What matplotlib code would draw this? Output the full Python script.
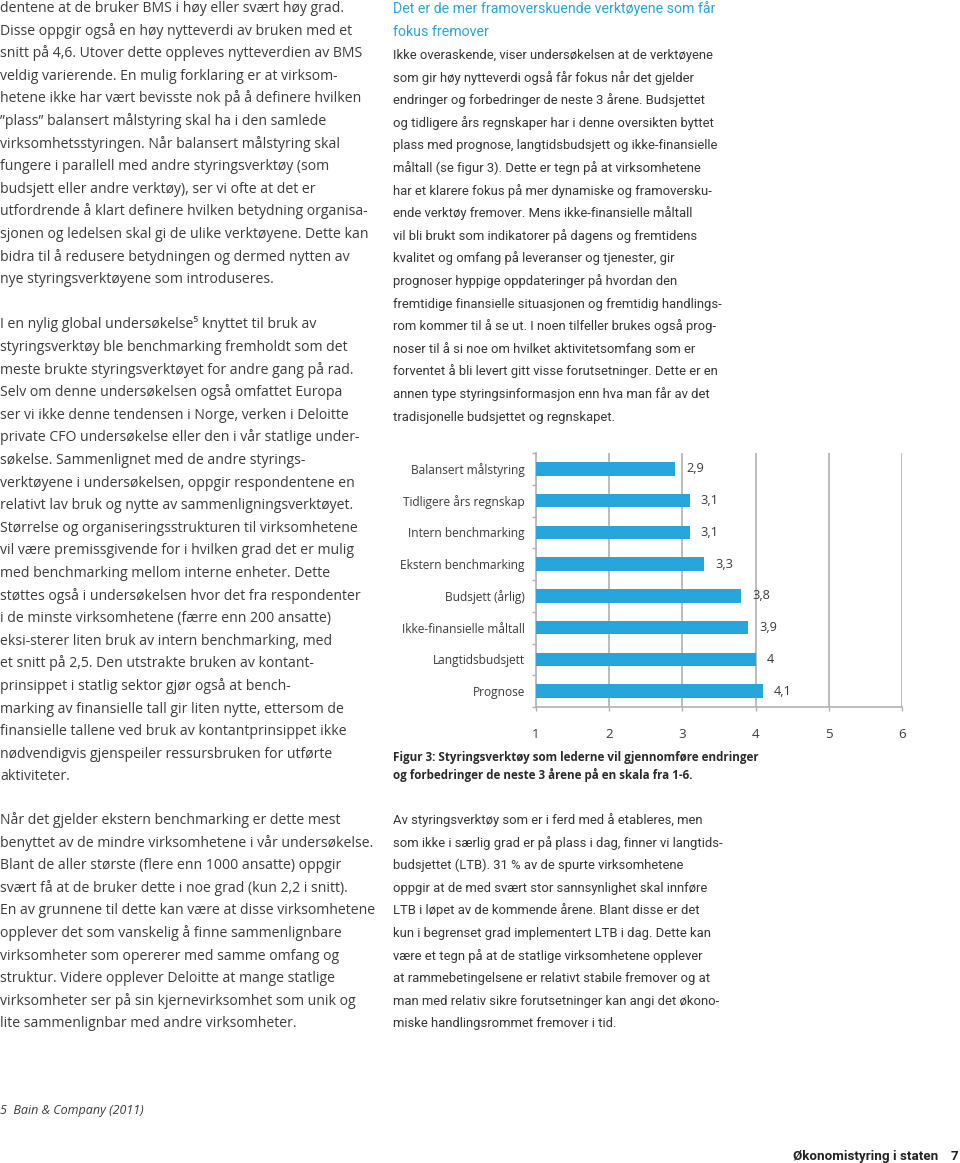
import matplotlib
matplotlib.use("Agg")
import matplotlib.pyplot as plt
import numpy as np

# ---------------- data ----------------
categories = ["Balansert målstyring", "Tidligere års regnskap", "Intern benchmarking",
              "Ekstern benchmarking", "Budsjett (årlig)", "Ikke-finansielle måltall",
              "Langtidsbudsjett", "Prognose"]
values = [2.9, 3.1, 3.1, 3.3, 3.8, 3.9, 4.0, 4.1]
value_labels = ["2,9", "3,1", "3,1", "3,3", "3,8", "3,9", "4", "4,1"]
x_ticks = [1, 2, 3, 4, 5, 6]

left_col_1 = [
    "dentene at de bruker BMS i høy eller svært høy grad.",
    "Disse oppgir også en høy nytteverdi av bruken med et",
    "snitt på 4,6. Utover dette oppleves nytteverdien av BMS",
    "veldig varierende. En mulig forklaring er at virksom-",
    "hetene ikke har vært bevisste nok på å definere hvilken",
    "”plass” balansert målstyring skal ha i den samlede",
    "virksomhetsstyringen. Når balansert målstyring skal",
    "fungere i parallell med andre styringsverktøy (som",
    "budsjett eller andre verktøy), ser vi ofte at det er",
    "utfordrende å klart definere hvilken betydning organisa-",
    "sjonen og ledelsen skal gi de ulike verktøyene. Dette kan",
    "bidra til å redusere betydningen og dermed nytten av",
    "nye styringsverktøyene som introduseres.",
    "",
    "I en nylig global undersøkelse⁵ knyttet til bruk av",
    "styringsverktøy ble benchmarking fremholdt som det",
    "meste brukte styringsverktøyet for andre gang på rad.",
    "Selv om denne undersøkelsen også omfattet Europa",
    "ser vi ikke denne tendensen i Norge, verken i Deloitte",
    "private CFO undersøkelse eller den i vår statlige under-",
    "søkelse. Sammenlignet med de andre styrings-",
    "verktøyene i undersøkelsen, oppgir respondentene en",
    "relativt lav bruk og nytte av sammenligningsverktøyet.",
    "Størrelse og organiseringsstrukturen til virksomhetene",
    "vil være premissgivende for i hvilken grad det er mulig",
    "med benchmarking mellom interne enheter. Dette",
    "støttes også i undersøkelsen hvor det fra respondenter",
    "i de minste virksomhetene (færre enn 200 ansatte)",
    "eksi-sterer liten bruk av intern benchmarking, med",
    "et snitt på 2,5. Den utstrakte bruken av kontant-",
    "prinsippet i statlig sektor gjør også at bench-",
    "marking av finansielle tall gir liten nytte, ettersom de",
    "finansielle tallene ved bruk av kontantprinsippet ikke",
    "nødvendigvis gjenspeiler ressursbruken for utførte",
    "aktiviteter.",
]
left_col_2 = [
    "Når det gjelder ekstern benchmarking er dette mest",
    "benyttet av de mindre virksomhetene i vår undersøkelse.",
    "Blant de aller største (flere enn 1000 ansatte) oppgir",
    "svært få at de bruker dette i noe grad (kun 2,2 i snitt).",
    "En av grunnene til dette kan være at disse virksomhetene",
    "opplever det som vanskelig å finne sammenlignbare",
    "virksomheter som opererer med samme omfang og",
    "struktur. Videre opplever Deloitte at mange statlige",
    "virksomheter ser på sin kjernevirksomhet som unik og",
    "lite sammenlignbar med andre virksomheter.",
]
right_heading = [
    "Det er de mer framoverskuende verktøyene som får",
    "fokus fremover",
]
right_col_1 = [
    "Ikke overaskende, viser undersøkelsen at de verktøyene",
    "som gir høy nytteverdi også får fokus når det gjelder",
    "endringer og forbedringer de neste 3 årene. Budsjettet",
    "og tidligere års regnskaper har i denne oversikten byttet",
    "plass med prognose, langtidsbudsjett og ikke-finansielle",
    "måltall (se figur 3). Dette er tegn på at virksomhetene",
    "har et klarere fokus på mer dynamiske og framoversku-",
    "ende verktøy fremover. Mens ikke-finansielle måltall",
    "vil bli brukt som indikatorer på dagens og fremtidens",
    "kvalitet og omfang på leveranser og tjenester, gir",
    "prognoser hyppige oppdateringer på hvordan den",
    "fremtidige finansielle situasjonen og fremtidig handlings-",
    "rom kommer til å se ut. I noen tilfeller brukes også prog-",
    "noser til å si noe om hvilket aktivitetsomfang som er",
    "forventet å bli levert gitt visse forutsetninger. Dette er en",
    "annen type styringsinformasjon enn hva man får av det",
    "tradisjonelle budsjettet og regnskapet.",
]
right_col_2 = [
    "Av styringsverktøy som er i ferd med å etableres, men",
    "som ikke i særlig grad er på plass i dag, finner vi langtids-",
    "budsjettet (LTB). 31 % av de spurte virksomhetene",
    "oppgir at de med svært stor sannsynlighet skal innføre",
    "LTB i løpet av de kommende årene. Blant disse er det",
    "kun i begrenset grad implementert LTB i dag. Dette kan",
    "være et tegn på at de statlige virksomhetene opplever",
    "at rammebetingelsene er relativt stabile fremover og at",
    "man med relativ sikre forutsetninger kan angi det økono-",
    "miske handlingsrommet fremover i tid.",
]
caption = [
    "Figur 3: Styringsverktøy som lederne vil gjennomføre endringer",
    "og forbedringer de neste 3 årene på en skala fra 1-6.",
]
footnote = "5  Bain & Company (2011)"
footer_title = "Økonomistyring i staten"
footer_page = "7"

# ---------------- styling ----------------
W, H = 960, 1163
FONT = ["Open Sans", "DejaVu Sans"]
FONT_R = ["Roboto", "DejaVu Sans"]
TXT = "#3b3b3b"
BLUE = "#27a6dc"
GRID = "#b0b0b0"
BODY = 10.1
BODY_R = 9.4
LS = 22.6

fig = plt.figure(figsize=(W / 100, H / 100), dpi=100)
fig.patch.set_facecolor("white")


def put(x, y, s, **kw):
    kw.setdefault("family", FONT)
    kw.setdefault("color", TXT)
    kw.setdefault("fontsize", BODY)
    fig.text(x / W, 1 - y / H, s, va="baseline", ha=kw.pop("ha", "left"), **kw)


def block(lines, x, y0, **kw):
    for i, s in enumerate(lines):
        if s:
            put(x, y0 + i * LS, s, **kw)


# left column
block(left_col_1, 0, 12)
block(left_col_2, 0, 824)
# right column
block(right_heading, 393, 13, color=BLUE, fontsize=10.2, family=FONT_R)
block(right_col_1, 393, 59, family=FONT_R, fontsize=BODY_R, color="#353535")
block(right_col_2, 393, 824, family=FONT_R, fontsize=BODY_R, color="#353535")
# caption
put(393, 761, caption[0], fontsize=8.4, weight="bold", color="#2a2a2a")
put(393, 779, caption[1], fontsize=8.4, weight="bold", color="#2a2a2a")
# footnote / footer
put(0, 1114, footnote, fontsize=9.0, style="italic")
put(938, 1160, footer_title, fontsize=9.6, weight="bold", ha="right",
    color="#222222", family=FONT_R)
put(958, 1160, footer_page, fontsize=9.6, weight="bold", ha="right",
    color="#222222", family=FONT_R)

# ---------------- chart ----------------
ax_l, ax_r, ax_t, ax_b = 536, 902, 453, 707
ax = fig.add_axes([ax_l / W, 1 - ax_b / H, (ax_r - ax_l) / W, (ax_b - ax_t) / H])
y = np.arange(len(categories))
ax.barh(y, values, height=0.42, color=BLUE, zorder=3)
ax.set_xlim(1, 6)
ax.set_ylim(len(categories) - 0.5, -0.5)
ax.set_xticks(x_ticks)
ax.set_xticklabels([str(t) for t in x_ticks], family=FONT, fontsize=9.6, color=TXT)
ax.set_yticks(y)
ax.set_yticklabels(categories, family=FONT, fontsize=8.6, color=TXT)
ax.set_yticks(np.arange(-0.5, len(categories)), minor=True)
ax.tick_params(axis="y", which="major", length=0, pad=8)
ax.tick_params(axis="y", which="minor", length=3, color=GRID, width=1)
ax.tick_params(axis="x", which="major", length=3, color=GRID, width=1, pad=12)
for xv in x_ticks[1:]:
    ax.axvline(xv, color=GRID, lw=1.2, zorder=1)
for s in ["top", "right"]:
    ax.spines[s].set_visible(False)
for s in ["left", "bottom"]:
    ax.spines[s].set_color(GRID)
    ax.spines[s].set_linewidth(1.2)
for yi, v, lab in zip(y, values, value_labels):
    ax.annotate(lab, (v, yi), xytext=(8, 0), textcoords="offset points",
                va="center", ha="left", family=FONT, fontsize=9.2, color=TXT)

fig.savefig("out.png", dpi=100, facecolor="white")
